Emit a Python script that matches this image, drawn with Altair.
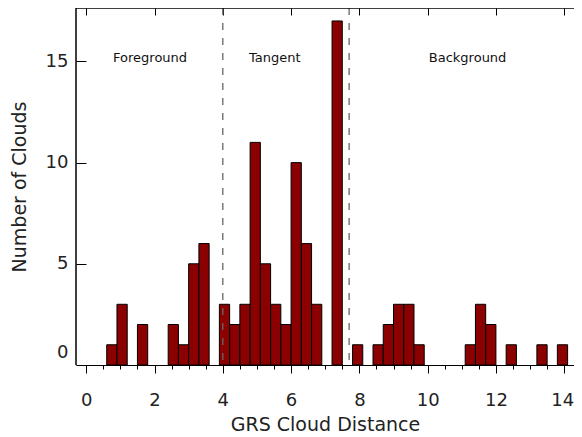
import altair as alt
import pandas as pd

# ---- data ----
bin_lo = [0.6, 0.9, 1.5, 2.4, 2.7, 3.0, 3.3, 3.9, 4.2, 4.5, 4.8, 5.1, 5.4, 5.7,
          6.0, 6.3, 6.6, 7.2, 7.8, 8.4, 8.7, 9.0, 9.3, 9.6, 11.1, 11.4, 11.7,
          12.3, 13.2, 13.8]
counts = [1, 3, 2, 2, 1, 5, 6, 3, 2, 3, 11, 5, 3, 2, 10, 6, 3, 17, 1, 1, 2, 3,
          3, 1, 1, 3, 2, 1, 1, 1]
BIN_WIDTH = 0.3

boundaries = [4.0, 7.7]

region_names = ["Foreground", "Tangent", "Background"]
region_x = [1.87, 5.52, 11.17]
region_y = [14.95, 14.95, 14.95]

x_ticks = [i * 0.5 for i in range(0, 29)]      # 0 .. 14
x_major = [0, 2, 4, 6, 8, 10, 12, 14]
y_ticks = [0, 5, 10, 15]

bars_df = pd.DataFrame({"lo": bin_lo,
                        "hi": [v + BIN_WIDTH for v in bin_lo],
                        "count": counts})
rules_df = pd.DataFrame({"pos": boundaries})
text_df = pd.DataFrame({"name": region_names, "x": region_x, "y": region_y})

FONT = "DejaVu Sans"
xscale = alt.Scale(domain=[-0.3, 14.287], nice=False, zero=False, padding=0)
yscale = alt.Scale(domain=[0, 17.64], nice=False, zero=False, padding=0)

bottom_axis = alt.Axis(
    orient="bottom", values=x_ticks, domain=True, domainColor="black",
    domainWidth=1,
    tickSize={"condition": {"test": "datum.value % 2 === 0", "value": 8}, "value": 4},
    tickColor="black", tickWidth=1,
    labelExpr="datum.value % 2 === 0 ? format(datum.value, 'd') : ''",
    labelOffset={"condition": {"test": "datum.value === 14", "value": -2}, "value": 0},
    labelFont=FONT, labelFontSize=18, labelColor="#222", labelPadding=18,
    labelFlush=False, labelOverlap=False,
    title="GRS Cloud Distance", titleFont=FONT, titleFontSize=19,
    titleFontWeight="normal", titleColor="#222", titlePadding=6, grid=False)

left_axis = alt.Axis(
    orient="left", values=y_ticks, domain=False, offset=-10, tickSize=10,
    tickColor="black", tickWidth=1,
    labelFont=FONT, labelFontSize=18, labelColor="#222", labelPadding=8,
    labelOffset={"condition": {"test": "datum.value === 0", "value": -13}, "value": 0},
    labelFlush=False, labelOverlap=False,
    title="Number of Clouds", titleFont=FONT, titleFontSize=19,
    titleFontWeight="normal", titleColor="#222", titlePadding=16, grid=False)

top_axis = alt.Axis(orient="top", values=x_major, domain=False, offset=-7,
                    tickSize=7, tickColor="black", labels=False, title=None,
                    grid=False)

bars = alt.Chart(bars_df).mark_bar(
    fill="#8b0000", stroke="black", strokeWidth=1
).encode(
    x=alt.X("lo:Q", scale=xscale, axis=bottom_axis),
    x2="hi:Q",
    y=alt.Y("count:Q", scale=yscale, axis=left_axis),
    y2=alt.datum(0),
)

rules = alt.Chart(rules_df).mark_rule(
    color="#666", strokeWidth=1.3, strokeDash=[7, 8]
).encode(
    x=alt.X("pos:Q", scale=xscale, axis=top_axis),
)

texts = alt.Chart(text_df).mark_text(
    font=FONT, fontSize=13, color="#111", baseline="alphabetic", align="center"
).encode(
    x=alt.X("x:Q", scale=xscale, axis=None),
    y=alt.Y("y:Q", scale=yscale, axis=None),
    text="name:N",
)

# plot frame: top and left edges (right edge lies outside the picture)
frame_top = alt.Chart(rules_df).mark_rule(color="black", strokeWidth=1).encode(
    y=alt.value(0), x=alt.value(0), x2=alt.value(498))
frame_left = alt.Chart(rules_df).mark_rule(color="black", strokeWidth=1).encode(
    x=alt.value(0), y=alt.value(0), y2=alt.value(357))

chart = alt.layer(bars, rules, texts, frame_top, frame_left).resolve_axis(
    x="independent", y="independent"
).properties(
    width=498, height=357,
    autosize=alt.AutoSizeParams(type="none"),
    padding={"left": 68, "top": 0, "right": 0, "bottom": 72},
    background="white",
).configure_view(stroke=None)

chart.save("out.html", embed_options={"renderer": "svg", "actions": False})
